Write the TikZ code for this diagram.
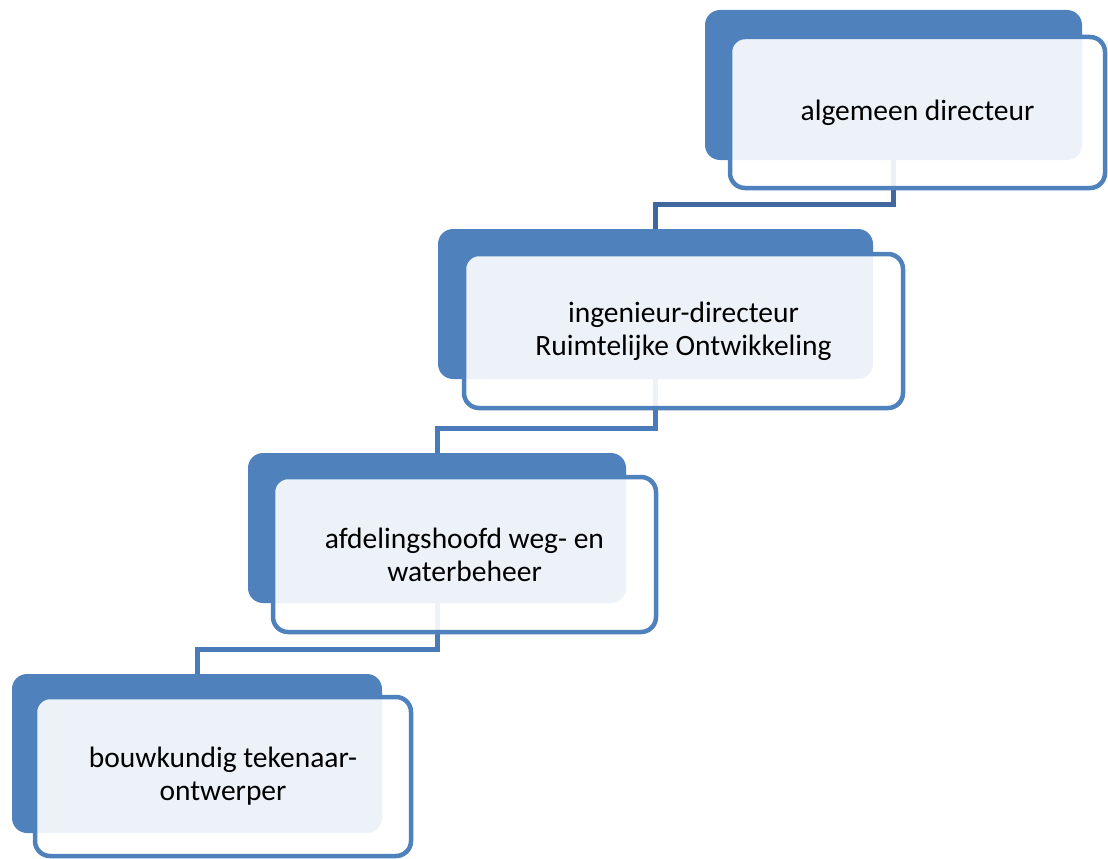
\documentclass[tikz,border=0pt]{standalone}
\usepackage{fontspec}
\setmainfont{Carlito}
\usepackage{tikz}
\usetikzlibrary{positioning, backgrounds}
\definecolor{colorBack}{HTML}{4F81BD}
\definecolor{colorLink}{HTML}{4A7BB8}
\definecolor{colorLinkTop}{HTML}{41689D}
\tikzset{
  backbox/.style={rectangle, rounded corners=15pt, fill=colorBack, inner sep=0pt},
  frontbox/.style={rectangle, rounded corners=15pt, draw=colorBack, line width=4.5pt,
    fill=white, fill opacity=0.9, text opacity=1, inner sep=0pt, align=center,
    font=\fontsize{29.5}{33}\selectfont},
  link/.style={line width=5pt, colorLink}
}

\begin{document}
\begin{tikzpicture}[x=1pt, y=-1pt]
\useasboundingbox (0,0) rectangle (1108,859);
% back boxes
\node[backbox, minimum width=377pt, minimum height=150pt] (d1) at (893.5,85) {};
\node[backbox, minimum width=435pt, minimum height=150pt] (d2) at (655.5,304) {};
\node[backbox, minimum width=378pt, minimum height=150pt] (d3) at (437,528) {};
\node[backbox, minimum width=370pt, minimum height=159pt] (d4) at (197,753.5) {};
% connectors sit behind the boxes
\coordinate (k1) at (893.5,204);
\coordinate (k2) at (655.5,428);
\coordinate (k3) at (437,649);
\begin{scope}[on background layer]
\draw[link, colorLinkTop] (d1.south) -- (k1) -| (d2.north);
\draw[link] (d2.south) -- (k2) -| (d3.north);
\draw[link] (d3.south) -- (k3) -| (d4.north);
\end{scope}
% front boxes
\node[frontbox, minimum width=375pt, minimum height=151pt] (f1) at (917.5,112.5) {algemeen directeur};
\node[frontbox, minimum width=439pt, minimum height=154pt] (f2) at (683.5,331) {ingenieur-directeur\\Ruimtelijke Ontwikkeling};
\node[frontbox, minimum width=383pt, minimum height=155pt] (f3) at (464.5,554.5) {afdelingshoofd weg- en\\waterbeheer};
\node[frontbox, minimum width=376pt, minimum height=159pt] (f4) at (223,776.5) {bouwkundig tekenaar-\\ontwerper};
\end{tikzpicture}
\end{document}
